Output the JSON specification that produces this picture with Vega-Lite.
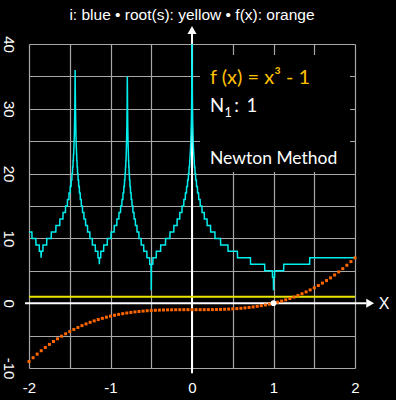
{
  "$schema": "https://vega.github.io/schema/vega-lite/v6.json",
  "width": 326,
  "height": 324,
  "autosize": {"type": "none"},
  "padding": {"left": 29, "top": 44, "right": 41, "bottom": 32},
  "background": "black",
  "config": {"view": {"stroke": null}},
  "resolve": {"axis": {"x": "independent", "y": "independent"}},
  "datasets": {
    "iter": [
      {"x": -2.0, "i": 11}, {"x": -1.9646, "i": 11}, {"x": -1.963, "i": 10}, {"x": -1.9162, "i": 10}, {"x": -1.9146, "i": 9}, {"x": -1.8743, "i": 9}, {"x": -1.8727, "i": 8}, {"x": -1.8539, "i": 8}, {"x": -1.8513, "i": 7}, {"x": -1.8487, "i": 8}, {"x": -1.8295, "i": 8}, {"x": -1.8279, "i": 9}, {"x": -1.7833, "i": 9}, {"x": -1.7817, "i": 10}, {"x": -1.7275, "i": 10}, {"x": -1.7259, "i": 11}, {"x": -1.6708, "i": 11}, {"x": -1.6692, "i": 12}, {"x": -1.6225, "i": 12}, {"x": -1.6209, "i": 13}, {"x": -1.5838, "i": 13}, {"x": -1.5822, "i": 14}, {"x": -1.5531, "i": 14}, {"x": -1.5515, "i": 15}, {"x": -1.5292, "i": 15}, {"x": -1.5276, "i": 16}, {"x": -1.5102, "i": 16}, {"x": -1.5086, "i": 17}, {"x": -1.4953, "i": 17}, {"x": -1.4937, "i": 18}, {"x": -1.4835, "i": 18}, {"x": -1.4819, "i": 19}, {"x": -1.4741, "i": 19}, {"x": -1.4725, "i": 20}, {"x": -1.4664, "i": 20}, {"x": -1.4648, "i": 21}, {"x": -1.4604, "i": 21}, {"x": -1.4588, "i": 22}, {"x": -1.4555, "i": 22}, {"x": -1.4539, "i": 23}, {"x": -1.4516, "i": 23}, {"x": -1.4491, "i": 24}, {"x": -1.4461, "i": 25}, {"x": -1.4439, "i": 26}, {"x": -1.442, "i": 27}, {"x": -1.4406, "i": 28}, {"x": -1.438, "i": 30}, {"x": -1.4357, "i": 33}, {"x": -1.4338, "i": 36},
      {"x": -1.432, "i": 33}, {"x": -1.4295, "i": 30}, {"x": -1.427, "i": 28}, {"x": -1.4255, "i": 27}, {"x": -1.4237, "i": 26}, {"x": -1.4215, "i": 25}, {"x": -1.4195, "i": 24}, {"x": -1.4181, "i": 24}, {"x": -1.4165, "i": 23}, {"x": -1.4148, "i": 23}, {"x": -1.4132, "i": 22}, {"x": -1.4105, "i": 22}, {"x": -1.4089, "i": 21}, {"x": -1.4055, "i": 21}, {"x": -1.4039, "i": 20}, {"x": -1.3991, "i": 20}, {"x": -1.3975, "i": 19}, {"x": -1.3915, "i": 19}, {"x": -1.3899, "i": 18}, {"x": -1.3825, "i": 18}, {"x": -1.3809, "i": 17}, {"x": -1.3717, "i": 17}, {"x": -1.3701, "i": 16}, {"x": -1.3594, "i": 16}, {"x": -1.3578, "i": 15}, {"x": -1.3444, "i": 15}, {"x": -1.3428, "i": 14}, {"x": -1.3269, "i": 14}, {"x": -1.3253, "i": 13}, {"x": -1.3066, "i": 13}, {"x": -1.305, "i": 12}, {"x": -1.2825, "i": 12}, {"x": -1.2809, "i": 11}, {"x": -1.2542, "i": 11}, {"x": -1.2526, "i": 10}, {"x": -1.2235, "i": 10}, {"x": -1.2219, "i": 9}, {"x": -1.1868, "i": 9}, {"x": -1.1852, "i": 8}, {"x": -1.1548, "i": 8}, {"x": -1.1532, "i": 7}, {"x": -1.1389, "i": 7}, {"x": -1.1369, "i": 6}, {"x": -1.1349, "i": 7}, {"x": -1.1202, "i": 7}, {"x": -1.1186, "i": 8}, {"x": -1.0842, "i": 8}, {"x": -1.0826, "i": 9}, {"x": -1.0401, "i": 9}, {"x": -1.0385, "i": 10}, {"x": -0.9945, "i": 10}, {"x": -0.9929, "i": 11}, {"x": -0.9551, "i": 11}, {"x": -0.9535, "i": 12}, {"x": -0.923, "i": 12}, {"x": -0.9214, "i": 13}, {"x": -0.8973, "i": 13}, {"x": -0.8957, "i": 14}, {"x": -0.8769, "i": 14}, {"x": -0.8753, "i": 15}, {"x": -0.8607, "i": 15}, {"x": -0.8591, "i": 16}, {"x": -0.8479, "i": 16}, {"x": -0.8463, "i": 17}, {"x": -0.8376, "i": 17}, {"x": -0.836, "i": 18}, {"x": -0.8294, "i": 18}, {"x": -0.8278, "i": 19}, {"x": -0.8227, "i": 19}, {"x": -0.8211, "i": 20}, {"x": -0.8174, "i": 20}, {"x": -0.8158, "i": 21}, {"x": -0.8131, "i": 21}, {"x": -0.8115, "i": 22}, {"x": -0.8096, "i": 22}, {"x": -0.8074, "i": 23}, {"x": -0.8049, "i": 24}, {"x": -0.8028, "i": 25}, {"x": -0.8011, "i": 26}, {"x": -0.7997, "i": 27}, {"x": -0.7986, "i": 28}, {"x": -0.7963, "i": 30}, {"x": -0.7951, "i": 33}, {"x": -0.7939, "i": 35},
      {"x": -0.7922, "i": 33}, {"x": -0.7905, "i": 30}, {"x": -0.7888, "i": 28}, {"x": -0.7877, "i": 27}, {"x": -0.7863, "i": 26}, {"x": -0.7847, "i": 25}, {"x": -0.7827, "i": 24}, {"x": -0.7803, "i": 23}, {"x": -0.7781, "i": 22}, {"x": -0.7767, "i": 22}, {"x": -0.7751, "i": 21}, {"x": -0.7728, "i": 21}, {"x": -0.7712, "i": 20}, {"x": -0.7683, "i": 20}, {"x": -0.7667, "i": 19}, {"x": -0.7625, "i": 19}, {"x": -0.7609, "i": 18}, {"x": -0.7556, "i": 18}, {"x": -0.754, "i": 17}, {"x": -0.7473, "i": 17}, {"x": -0.7457, "i": 16}, {"x": -0.7373, "i": 16}, {"x": -0.7357, "i": 15}, {"x": -0.7259, "i": 15}, {"x": -0.7243, "i": 14}, {"x": -0.7119, "i": 14}, {"x": -0.7103, "i": 13}, {"x": -0.6953, "i": 13}, {"x": -0.6937, "i": 12}, {"x": -0.6758, "i": 12}, {"x": -0.6742, "i": 11}, {"x": -0.6523, "i": 11}, {"x": -0.6507, "i": 10}, {"x": -0.6242, "i": 10}, {"x": -0.6226, "i": 9}, {"x": -0.5929, "i": 9}, {"x": -0.5913, "i": 8}, {"x": -0.5545, "i": 8}, {"x": -0.5529, "i": 7}, {"x": -0.5198, "i": 7}, {"x": -0.5182, "i": 6}, {"x": -0.5025, "i": 6}, {"x": -0.5, "i": 2}, {"x": -0.4975, "i": 6}, {"x": -0.4811, "i": 6}, {"x": -0.4795, "i": 7}, {"x": -0.439, "i": 7}, {"x": -0.4374, "i": 8}, {"x": -0.3851, "i": 8}, {"x": -0.3835, "i": 9}, {"x": -0.3256, "i": 9}, {"x": -0.324, "i": 10}, {"x": -0.2709, "i": 10}, {"x": -0.2693, "i": 11}, {"x": -0.2236, "i": 11}, {"x": -0.222, "i": 12}, {"x": -0.1836, "i": 12}, {"x": -0.182, "i": 13}, {"x": -0.1505, "i": 13}, {"x": -0.1489, "i": 14}, {"x": -0.1233, "i": 14}, {"x": -0.1217, "i": 15}, {"x": -0.1009, "i": 15}, {"x": -0.0993, "i": 16}, {"x": -0.0826, "i": 16}, {"x": -0.081, "i": 17}, {"x": -0.0676, "i": 17}, {"x": -0.066, "i": 18}, {"x": -0.0553, "i": 18}, {"x": -0.0537, "i": 19}, {"x": -0.0453, "i": 19}, {"x": -0.0437, "i": 20}, {"x": -0.0372, "i": 20}, {"x": -0.0356, "i": 21}, {"x": -0.0305, "i": 21}, {"x": -0.027, "i": 22}, {"x": -0.022, "i": 23}, {"x": -0.018, "i": 24}, {"x": -0.0147, "i": 25}, {"x": -0.012, "i": 26}, {"x": -0.008, "i": 28}, {"x": -0.0053, "i": 30}, {"x": -0.003, "i": 33}, {"x": -0.0016, "i": 36}, {"x": 0, "i": 44},
      {"x": 0.0016, "i": 36}, {"x": 0.003, "i": 33}, {"x": 0.0053, "i": 30}, {"x": 0.008, "i": 28}, {"x": 0.012, "i": 26}, {"x": 0.0147, "i": 25}, {"x": 0.018, "i": 24}, {"x": 0.022, "i": 23}, {"x": 0.027, "i": 22}, {"x": 0.0305, "i": 21}, {"x": 0.0356, "i": 21}, {"x": 0.0372, "i": 20}, {"x": 0.0438, "i": 20}, {"x": 0.0454, "i": 19}, {"x": 0.0538, "i": 19}, {"x": 0.0554, "i": 18}, {"x": 0.066, "i": 18}, {"x": 0.0676, "i": 17}, {"x": 0.0811, "i": 17}, {"x": 0.0827, "i": 16}, {"x": 0.0995, "i": 16}, {"x": 0.1011, "i": 15}, {"x": 0.1221, "i": 15}, {"x": 0.1237, "i": 14}, {"x": 0.1499, "i": 14}, {"x": 0.1515, "i": 13}, {"x": 0.1843, "i": 13}, {"x": 0.1859, "i": 12}, {"x": 0.2271, "i": 12}, {"x": 0.2287, "i": 11}, {"x": 0.2808, "i": 11}, {"x": 0.2824, "i": 10}, {"x": 0.35, "i": 10}, {"x": 0.3516, "i": 9}, {"x": 0.4412, "i": 9}, {"x": 0.4428, "i": 8}, {"x": 0.5568, "i": 8}, {"x": 0.5584, "i": 7}, {"x": 0.7172, "i": 7}, {"x": 0.7188, "i": 6}, {"x": 0.8912, "i": 6}, {"x": 0.8928, "i": 5}, {"x": 0.9862, "i": 5}, {"x": 0.9878, "i": 4}, {"x": 0.9985, "i": 4}, {"x": 1.0, "i": 2}, {"x": 1.0015, "i": 4}, {"x": 1.0122, "i": 4}, {"x": 1.0138, "i": 5}, {"x": 1.1242, "i": 5}, {"x": 1.1258, "i": 6}, {"x": 1.4432, "i": 6}, {"x": 1.4448, "i": 7}, {"x": 2.0, "i": 7}
    ],
    "fx": [
      {"x": -2.0, "y": -9}, {"x": -1.95, "y": -8.415}, {"x": -1.9, "y": -7.859}, {"x": -1.85, "y": -7.332}, {"x": -1.8, "y": -6.832}, {"x": -1.75, "y": -6.359}, {"x": -1.7, "y": -5.913}, {"x": -1.65, "y": -5.492}, {"x": -1.6, "y": -5.096}, {"x": -1.55, "y": -4.724}, {"x": -1.5, "y": -4.375}, {"x": -1.45, "y": -4.049}, {"x": -1.4, "y": -3.744}, {"x": -1.35, "y": -3.46}, {"x": -1.3, "y": -3.197}, {"x": -1.25, "y": -2.953}, {"x": -1.2, "y": -2.728}, {"x": -1.15, "y": -2.521}, {"x": -1.1, "y": -2.331}, {"x": -1.05, "y": -2.158}, {"x": -1.0, "y": -2.0}, {"x": -0.95, "y": -1.857}, {"x": -0.9, "y": -1.729}, {"x": -0.85, "y": -1.614}, {"x": -0.8, "y": -1.512}, {"x": -0.75, "y": -1.422}, {"x": -0.7, "y": -1.343}, {"x": -0.65, "y": -1.275}, {"x": -0.6, "y": -1.216}, {"x": -0.55, "y": -1.166}, {"x": -0.5, "y": -1.125}, {"x": -0.45, "y": -1.091}, {"x": -0.4, "y": -1.064}, {"x": -0.35, "y": -1.043}, {"x": -0.3, "y": -1.027}, {"x": -0.25, "y": -1.016}, {"x": -0.2, "y": -1.008}, {"x": -0.15, "y": -1.003}, {"x": -0.1, "y": -1.001}, {"x": -0.05, "y": -1.0}, {"x": 0.0, "y": -1.0}, {"x": 0.05, "y": -1.0}, {"x": 0.1, "y": -0.999}, {"x": 0.15, "y": -0.997}, {"x": 0.2, "y": -0.992}, {"x": 0.25, "y": -0.984}, {"x": 0.3, "y": -0.973}, {"x": 0.35, "y": -0.957}, {"x": 0.4, "y": -0.936}, {"x": 0.45, "y": -0.909}, {"x": 0.5, "y": -0.875}, {"x": 0.55, "y": -0.834}, {"x": 0.6, "y": -0.784}, {"x": 0.65, "y": -0.725}, {"x": 0.7, "y": -0.657}, {"x": 0.75, "y": -0.578}, {"x": 0.8, "y": -0.488}, {"x": 0.85, "y": -0.386}, {"x": 0.9, "y": -0.271}, {"x": 0.95, "y": -0.143}, {"x": 1.0, "y": 0.0}, {"x": 1.05, "y": 0.158}, {"x": 1.1, "y": 0.331}, {"x": 1.15, "y": 0.521}, {"x": 1.2, "y": 0.728}, {"x": 1.25, "y": 0.953}, {"x": 1.3, "y": 1.197}, {"x": 1.35, "y": 1.46}, {"x": 1.4, "y": 1.744}, {"x": 1.45, "y": 2.049}, {"x": 1.5, "y": 2.375}, {"x": 1.55, "y": 2.724}, {"x": 1.6, "y": 3.096}, {"x": 1.65, "y": 3.492}, {"x": 1.7, "y": 3.913}, {"x": 1.75, "y": 4.359}, {"x": 1.8, "y": 4.832}, {"x": 1.85, "y": 5.332}, {"x": 1.9, "y": 5.859}, {"x": 1.95, "y": 6.415}, {"x": 2.0, "y": 7.0}
    ]
  },
  "layer": [
    {
      "data": {"name": "iter"},
      "mark": {"type": "line", "color": "#00eeee", "strokeWidth": 1.5, "clip": true, "opacity": 0},
      "encoding": {
        "x": {"field": "x", "type": "quantitative", "scale": {"domain": [-2, 2], "nice": false, "zero": false},
          "axis": {"orient": "bottom", "values": [-2, -1.5, -1, -0.5, 0, 0.5, 1, 1.5, 2], "title": null, "domain": false, "ticks": false, "tickSize": 0, "grid": true, "gridColor": "#a8a8a8", "gridWidth": 1.2, "gridOpacity": 1, "labelExpr": "datum.value % 1 === 0 ? '' + datum.value : ''", "labelColor": "white", "labelFont": "Liberation Sans", "labelFontSize": 15, "labelPadding": 12, "labelFlush": false, "labelOverlap": false, "labelBound": false}},
        "y": {"field": "i", "type": "quantitative", "scale": {"domain": [-10, 40], "nice": false, "zero": false},
          "axis": {"orient": "left", "values": [-10, -5, 0, 5, 10, 15, 20, 25, 30, 35, 40], "title": null, "domain": false, "ticks": false, "tickSize": 0, "grid": true, "gridColor": "#a8a8a8", "gridWidth": 1.2, "gridOpacity": 1, "labelExpr": "datum.value % 10 === 0 ? '' + datum.value : ''", "labelColor": "white", "labelFont": "Liberation Sans", "labelFontSize": 15, "labelAngle": 90, "labelAlign": "center", "labelBaseline": "top", "labelPadding": 14, "labelFlush": false, "labelOverlap": false, "labelBound": false}}
      }
    },
    {
      "data": {"values": [{}]},
      "mark": {"type": "rect", "color": "black", "opacity": 1},
      "encoding": {
        "x": {"datum": 0.098, "type": "quantitative", "scale": {"domain": [-2, 2], "nice": false, "zero": false}, "axis": null},
        "x2": {"datum": 1.939},
        "y": {"datum": 38.3, "type": "quantitative", "scale": {"domain": [-10, 40], "nice": false, "zero": false}, "axis": null},
        "y2": {"datum": 20.25}
      }
    },
    {
      "data": {"values": [{}]},
      "mark": {"type": "rule", "color": "white", "strokeWidth": 2},
      "encoding": {
        "x": {"datum": 0, "type": "quantitative", "scale": {"domain": [-2, 2], "nice": false, "zero": false}, "axis": null},
        "y": {"datum": -10.82, "type": "quantitative", "scale": {"domain": [-10, 40], "nice": false, "zero": false}, "axis": null},
        "y2": {"datum": 41.7}
      }
    },
    {
      "data": {"values": [{}]},
      "mark": {"type": "rule", "color": "white", "strokeWidth": 2},
      "encoding": {
        "x": {"datum": -2.049, "type": "quantitative", "scale": {"domain": [-2, 2], "nice": false, "zero": false}, "axis": null},
        "x2": {"datum": 2.14},
        "y": {"datum": 0, "type": "quantitative", "scale": {"domain": [-10, 40], "nice": false, "zero": false}, "axis": null}
      }
    },
    {
      "data": {"values": [{}]},
      "mark": {"type": "point", "shape": "triangle-up", "filled": true, "color": "white", "opacity": 1, "size": 81},
      "encoding": {
        "x": {"datum": 0, "type": "quantitative", "scale": {"domain": [-2, 2], "nice": false, "zero": false}, "axis": null},
        "y": {"datum": 42.16, "type": "quantitative", "scale": {"domain": [-10, 40], "nice": false, "zero": false}, "axis": null}
      }
    },
    {
      "data": {"values": [{}]},
      "mark": {"type": "point", "shape": "triangle-right", "filled": true, "color": "white", "opacity": 1, "size": 81},
      "encoding": {
        "x": {"datum": 2.186, "type": "quantitative", "scale": {"domain": [-2, 2], "nice": false, "zero": false}, "axis": null},
        "y": {"datum": 0, "type": "quantitative", "scale": {"domain": [-10, 40], "nice": false, "zero": false}, "axis": null}
      }
    },
    {
      "data": {"values": [{}]},
      "mark": {"type": "text", "text": "X", "color": "white", "font": "Liberation Sans", "fontSize": 16, "align": "center", "baseline": "middle"},
      "encoding": {
        "x": {"datum": 2.356, "type": "quantitative", "scale": {"domain": [-2, 2], "nice": false, "zero": false}, "axis": null},
        "y": {"datum": -0.2, "type": "quantitative", "scale": {"domain": [-10, 40], "nice": false, "zero": false}, "axis": null}
      }
    },
    {
      "data": {"values": [{}]},
      "mark": {"type": "text", "text": "i: blue • root(s): yellow • f(x): orange", "color": "white", "font": "Liberation Sans", "fontSize": 15.5, "align": "center", "baseline": "alphabetic"},
      "encoding": {
        "x": {"datum": 0, "type": "quantitative", "scale": {"domain": [-2, 2], "nice": false, "zero": false}, "axis": null},
        "y": {"datum": 43.78, "type": "quantitative", "scale": {"domain": [-10, 40], "nice": false, "zero": false}, "axis": null}
      }
    },
    {
      "data": {"values": [{}]},
      "mark": {"type": "rule", "color": "#e6e600", "strokeWidth": 2},
      "encoding": {
        "x": {"datum": -2, "type": "quantitative", "scale": {"domain": [-2, 2], "nice": false, "zero": false}, "axis": null},
        "x2": {"datum": 2},
        "y": {"datum": 1, "type": "quantitative", "scale": {"domain": [-10, 40], "nice": false, "zero": false}, "axis": null}
      }
    },
    {
      "data": {"name": "iter"},
      "mark": {"type": "line", "color": "#00eeee", "strokeWidth": 1.5, "clip": true},
      "encoding": {
        "x": {"field": "x", "type": "quantitative", "scale": {"domain": [-2, 2], "nice": false, "zero": false}, "axis": null},
        "y": {"field": "i", "type": "quantitative", "scale": {"domain": [-10, 40], "nice": false, "zero": false}, "axis": null}
      }
    },
    {
      "data": {"name": "fx"},
      "mark": {"type": "point", "shape": "square", "filled": true, "color": "#ff6600", "opacity": 1, "size": 9},
      "encoding": {
        "x": {"field": "x", "type": "quantitative", "scale": {"domain": [-2, 2], "nice": false, "zero": false}, "axis": null},
        "y": {"field": "y", "type": "quantitative", "scale": {"domain": [-10, 40], "nice": false, "zero": false}, "axis": null}
      }
    },
    {
      "data": {"values": [{}]},
      "mark": {"type": "point", "shape": "circle", "filled": true, "color": "white", "opacity": 1, "size": 32},
      "encoding": {
        "x": {"datum": 1, "type": "quantitative", "scale": {"domain": [-2, 2], "nice": false, "zero": false}, "axis": null},
        "y": {"datum": 0, "type": "quantitative", "scale": {"domain": [-10, 40], "nice": false, "zero": false}, "axis": null}
      }
    },
    {
      "data": {"values": [{}]},
      "mark": {"type": "text", "text": "f (x) = x³ - 1", "color": "#ffc000", "font": "Lato", "fontSize": 20, "align": "left", "baseline": "alphabetic"},
      "encoding": {
        "x": {"datum": 0.221, "type": "quantitative", "scale": {"domain": [-2, 2], "nice": false, "zero": false}, "axis": null},
        "y": {"datum": 33.78, "type": "quantitative", "scale": {"domain": [-10, 40], "nice": false, "zero": false}, "axis": null}
      }
    },
    {
      "data": {"values": [{}]},
      "mark": {"type": "text", "text": "N", "color": "white", "font": "Lato", "fontSize": 18.5, "align": "left", "baseline": "alphabetic"},
      "encoding": {
        "x": {"datum": 0.221, "type": "quantitative", "scale": {"domain": [-2, 2], "nice": false, "zero": false}, "axis": null},
        "y": {"datum": 29.55, "type": "quantitative", "scale": {"domain": [-10, 40], "nice": false, "zero": false}, "axis": null}
      }
    },
    {
      "data": {"values": [{}]},
      "mark": {"type": "text", "text": "1", "color": "white", "font": "Lato", "fontSize": 12.5, "align": "left", "baseline": "alphabetic"},
      "encoding": {
        "x": {"datum": 0.398, "type": "quantitative", "scale": {"domain": [-2, 2], "nice": false, "zero": false}, "axis": null},
        "y": {"datum": 28.69, "type": "quantitative", "scale": {"domain": [-10, 40], "nice": false, "zero": false}, "axis": null}
      }
    },
    {
      "data": {"values": [{}]},
      "mark": {"type": "text", "text": ":", "color": "white", "font": "Lato", "fontSize": 18.5, "align": "left", "baseline": "alphabetic"},
      "encoding": {
        "x": {"datum": 0.518, "type": "quantitative", "scale": {"domain": [-2, 2], "nice": false, "zero": false}, "axis": null},
        "y": {"datum": 29.55, "type": "quantitative", "scale": {"domain": [-10, 40], "nice": false, "zero": false}, "axis": null}
      }
    },
    {
      "data": {"values": [{}]},
      "mark": {"type": "text", "text": "1", "color": "white", "font": "Lato", "fontSize": 18.5, "align": "left", "baseline": "alphabetic"},
      "encoding": {
        "x": {"datum": 0.67, "type": "quantitative", "scale": {"domain": [-2, 2], "nice": false, "zero": false}, "axis": null},
        "y": {"datum": 29.55, "type": "quantitative", "scale": {"domain": [-10, 40], "nice": false, "zero": false}, "axis": null}
      }
    },
    {
      "data": {"values": [{}]},
      "mark": {"type": "text", "text": "Newton Method", "color": "white", "font": "Lato", "fontSize": 17.5, "align": "left", "baseline": "alphabetic"},
      "encoding": {
        "x": {"datum": 0.221, "type": "quantitative", "scale": {"domain": [-2, 2], "nice": false, "zero": false}, "axis": null},
        "y": {"datum": 21.48, "type": "quantitative", "scale": {"domain": [-10, 40], "nice": false, "zero": false}, "axis": null}
      }
    }
  ]
}
